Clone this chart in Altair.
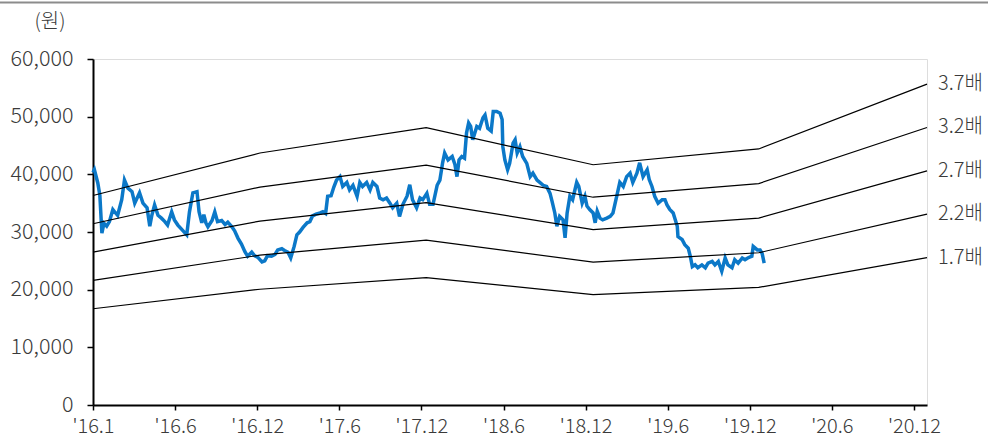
import json
import altair as alt
import pandas as pd

# Share price, keyed by trading-day index from the first session of 2016
price_day = [0, 2, 7, 10, 13, 16, 20, 24, 29, 33, 36, 42, 46, 51, 57, 61, 68, 73, 79, 83,
             86, 90, 95, 100, 105, 109, 115, 119, 124, 130, 137, 141, 146, 152, 155, 159, 162, 165, 168, 174,
             178, 182, 188, 193, 197, 203, 207, 212, 217, 222, 226, 232, 236, 241, 247, 251, 255, 261, 266, 270,
             276, 280, 285, 289, 294, 298, 302, 307, 313, 317, 321, 326, 332, 336, 340, 343, 348, 352, 356, 361,
             365, 371, 375, 380, 386, 390, 394, 400, 405, 409, 415, 419, 424, 429, 434, 438, 444, 448, 453, 459,
             463, 467, 473, 478, 482, 488, 492, 497, 503, 507, 511, 514, 519, 525, 529, 532, 535, 539, 543, 546,
             549, 552, 555, 561, 565, 570, 573, 577, 582, 585, 590, 595, 598, 599, 602, 606, 609, 614, 617, 620,
             624, 628, 634, 639, 643, 649, 653, 658, 663, 668, 671, 675, 678, 682, 687, 690, 693, 697, 701, 707,
             710, 715, 719, 722, 726, 731, 734, 737, 741, 745, 751, 756, 760, 766, 770, 775, 780, 785, 789, 795,
             799, 804, 810, 813, 817, 821, 826, 832, 836, 839, 843, 848, 854, 855, 861, 865, 870, 873, 876, 880,
             884, 890, 895, 899, 905, 909, 914, 919, 924, 928, 934, 938, 943, 949, 953, 957, 963, 965, 971, 975,
             978, 981]
price_won = [40300, 40800, 38500, 36400, 29800, 31500, 31000, 31800, 33900, 33300, 32900, 35600, 39000, 37600, 37000, 35000, 36800, 35000, 34200, 31000,
             32900, 34700, 32900, 32400, 31800, 31200, 33500, 32100, 31200, 30400, 29500, 33500, 36800, 37000, 33500, 31600, 33000, 31600, 30900, 32000,
             33500, 31800, 32000, 31300, 31700, 30900, 30200, 28900, 27900, 26600, 25800, 26500, 25900, 25600, 24800, 25000, 25900, 25800, 26100, 26900,
             27100, 26800, 26500, 25500, 27500, 29500, 30000, 30800, 31600, 31800, 32800, 33100, 33300, 33500, 33200, 36200, 36300, 37800, 39000, 39600,
             37900, 38600, 37300, 38100, 36200, 38600, 37900, 38600, 37300, 38600, 37900, 35900, 35600, 35900, 35000, 34200, 35000, 32700, 34800, 36200,
             38200, 35600, 34200, 35900, 35600, 36700, 34800, 34800, 38100, 39000, 42000, 43700, 42500, 43100, 41700, 39600, 42500, 43100, 42800, 47200,
             48900, 48300, 46000, 48300, 48000, 49800, 50300, 48000, 47500, 50900, 50900, 50600, 49500, 44800, 42500, 40800, 41900, 45400, 46000, 43700,
             44800, 43100, 41900, 39600, 40200, 39000, 38600, 38100, 37900, 36700, 35300, 33300, 31000, 32700, 32100, 29000, 33300, 36200, 35600, 38600,
             37900, 35000, 36200, 34500, 33900, 33300, 31600, 33600, 32400, 32100, 32400, 32700, 33300, 36500, 38600, 37900, 39600, 40200, 38600, 40200,
             42000, 39600, 40800, 39100, 37900, 36200, 35000, 35600, 35600, 34700, 33900, 33300, 31000, 29200, 28700, 27800, 27200, 25800, 24000, 24300,
             23800, 24300, 23800, 24600, 24900, 24300, 24900, 23200, 25500, 24300, 23800, 25200, 24600, 25500, 25200, 25500, 25800, 27500, 26900, 26900,
             26300, 24600]

# Book value per share at each year boundary (trading-day index) and the projection end
bps_day = [0, 244, 487, 731, 973, 1219]
bps_won = [9820, 11810, 13000, 11260, 12000, 15040]
pbr_multiples = [1.7, 2.2, 2.7, 3.2, 3.7]

# Axis ticks every 120 trading days
tick_days = [0, 120, 240, 360, 480, 600, 720, 840, 960, 1080, 1200]
tick_labels = ["'16.1", "'16.6", "'16.12", "'17.6", "'17.12", "'18.6", "'18.12",
               "'19.6", "'19.12", "'20.6", "'20.12"]
won_ticks = [0, 10000, 20000, 30000, 40000, 50000, 60000]
won_labels = ["0", "10,000", "20,000", "30,000", "40,000", "50,000", "60,000"]

FONT = "Noto Sans CJK KR"
TEXT = "#3a3a3a"

price = pd.DataFrame({"day": price_day, "won": price_won})
bands = pd.DataFrame(
    [{"day": d, "won": m * b, "band": f"{m}배"}
     for m in pbr_multiples for d, b in zip(bps_day, bps_won)]
)
band_ends = pd.DataFrame(
    [{"day": bps_day[-1], "won": m * bps_won[-1], "label": f"{m}배"} for m in pbr_multiples]
)

x_label_expr = json.dumps(tick_labels) + "[round(datum.value / 120)]"
y_label_expr = json.dumps(won_labels) + "[round(datum.value / 10000)]"

x_enc = alt.X(
    "day:Q",
    scale=alt.Scale(domain=[0, 1219], nice=False, zero=False),
    axis=alt.Axis(values=tick_days, labelExpr=x_label_expr, title=None, grid=False,
                  tickSize=5, tickWidth=1.5, domainWidth=2, domainColor="#000",
                  tickColor="#000", labelPadding=6, labelFont=FONT, labelFontSize=20,
                  labelFontWeight=300, labelColor=TEXT, labelFlush=False),
)
y_enc = alt.Y(
    "won:Q",
    scale=alt.Scale(domain=[0, 60000], nice=False),
    axis=alt.Axis(values=won_ticks, labelExpr=y_label_expr, title=None, grid=False,
                  tickSize=6, tickWidth=1.5, domainWidth=2, domainColor="#000",
                  tickColor="#000", labelPadding=14, labelFont=FONT, labelFontSize=21.5,
                  labelFontWeight=300, labelColor=TEXT),
)

price_line = alt.Chart(price).mark_line(color="#0b78c8", strokeWidth=3.5).encode(x=x_enc, y=y_enc)

band_lines = alt.Chart(bands).mark_line(color="#000", strokeWidth=1.2).encode(
    x=x_enc, y=y_enc, detail="band:N"
)

band_text = alt.Chart(band_ends).mark_text(
    align="left", baseline="middle", dx=11, font=FONT, fontSize=20, fontWeight=300, color=TEXT
).encode(x=x_enc, y=y_enc, text="label:N")

unit_text = alt.Chart(pd.DataFrame({"t": ["(원)"]})).mark_text(
    align="center", baseline="middle", font=FONT, fontSize=20, fontWeight=300, color=TEXT
).encode(x=alt.value(-43), y=alt.value(-37), text="t:N")

top_rule = alt.Chart(pd.DataFrame({"k": [0]})).mark_rule(color="#8c8c8c", strokeWidth=2).encode(
    x=alt.value(-93), x2=alt.value(895), y=alt.value(-56.5)
)

chart = alt.layer(price_line, band_lines, band_text, unit_text, top_rule).properties(
    width=834,
    height=346,
    autosize=alt.AutoSizeParams(type="none"),
    padding={"left": 93, "top": 59, "right": 61, "bottom": 40},
).configure_view(stroke=None).configure(background="white")

chart.save("out.html", embed_options={"renderer": "svg", "actions": False})
